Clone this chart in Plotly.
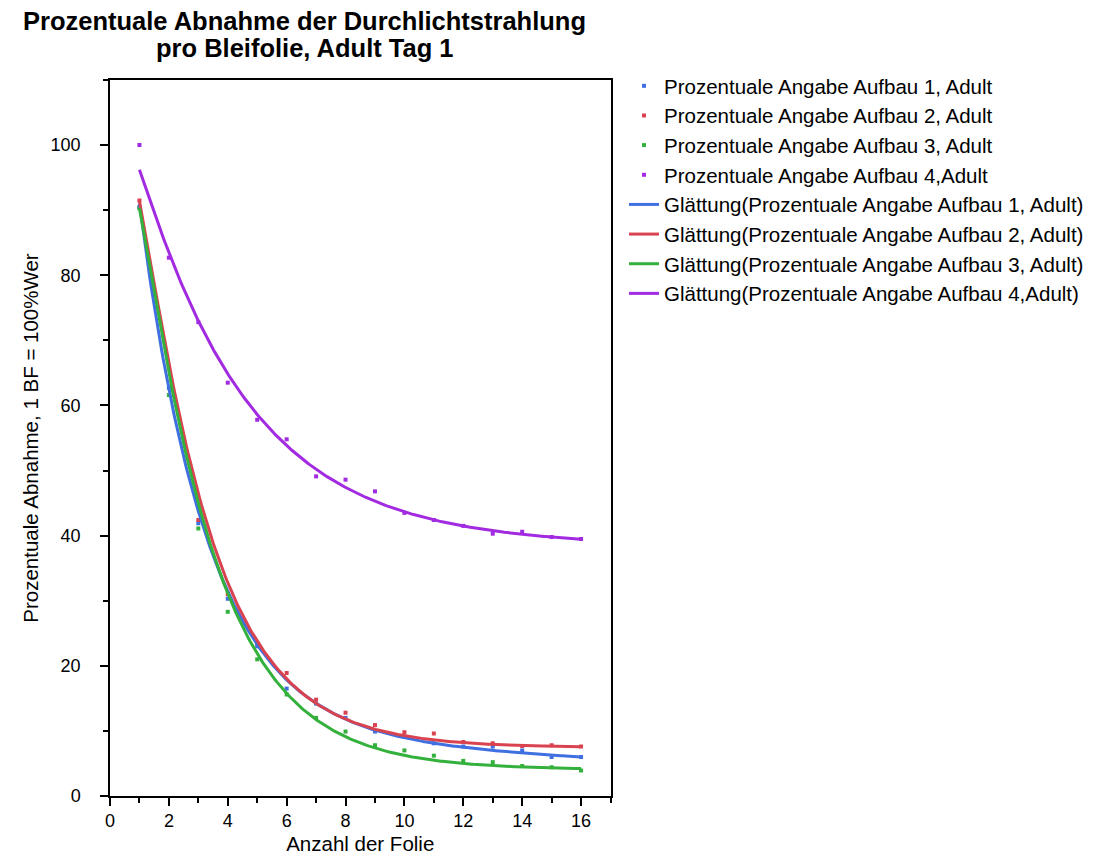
import numpy as np
import plotly.graph_objects as go

folie = list(range(1, 17))

# measured data points
aufbau1 = [90.5, 62.7, 41.9, 30.3, 23.0, 16.5, 14.2, 12.0, 9.9, 9.1, 8.1, 7.6, 7.6, 7.0, 6.0, 6.0]
aufbau2 = [91.5, 66.0, 42.4, 31.0, 23.5, 18.9, 14.8, 12.8, 10.9, 9.8, 9.6, 8.3, 8.1, 7.7, 7.8, 7.6]
aufbau3 = [90.3, 61.6, 41.1, 28.3, 21.0, 15.6, 12.0, 9.9, 7.8, 7.0, 6.2, 5.4, 5.2, 4.6, 4.4, 3.9]
aufbau4 = [100.0, 82.7, 72.8, 63.5, 57.8, 54.8, 49.1, 48.6, 46.8, 43.5, 42.4, 41.5, 40.3, 40.6, 39.8, 39.5]

# smoothed curves (Glättung) at each Folie
glatt1 = [90.8, 66.6, 46.1, 31.2, 23.1, 17.1, 13.5, 11.4, 10.1, 9.1, 8.3, 7.5, 7.2, 6.7, 6.3, 5.9]
glatt2 = [91.4, 67.3, 46.6, 31.8, 23.6, 17.8, 14.2, 12.1, 10.8, 9.75, 9.1, 8.4, 8.1, 7.7, 7.6, 7.5]
glatt3 = [90.3, 66.0, 45.6, 30.4, 21.0, 15.3, 11.5, 9.2, 7.7, 6.8, 6.2, 5.45, 5.05, 4.7, 4.3, 3.9]
glatt4 = [96.2, 84.3, 73.1, 64.0, 58.2, 53.9, 50.0, 47.8, 45.6, 43.7, 42.6, 41.6, 40.8, 40.2, 39.8, 39.4]

names = ["Prozentuale Angabe Aufbau 1, Adult", "Prozentuale Angabe Aufbau 2, Adult",
         "Prozentuale Angabe Aufbau 3, Adult", "Prozentuale Angabe Aufbau 4,Adult"]
colors = ["#3F6FE0", "#D9434F", "#34B03C", "#A22AE0"]
series = [aufbau1, aufbau2, aufbau3, aufbau4]
smooth = [glatt1, glatt2, glatt3, glatt4]

title_lines = ["Prozentuale Abnahme der Durchlichtstrahlung", "pro Bleifolie, Adult Tag 1"]


def smooth_curve(x, y):
    """Weighted least-squares double-exponential smoothing of the read curve values."""
    x = np.asarray(x, float)
    y = np.asarray(y, float)
    w = 1.0 / np.sqrt(y)
    w[0] *= 4.0   # anchor the curve at its first read value
    w[-3:] *= 3.0  # and along its tail
    best = None
    for k1 in np.linspace(0.15, 1.6, 59):
        for k2 in np.linspace(0.01, 0.6, 60):
            if k2 >= k1:
                continue
            M = np.column_stack([np.ones_like(x), np.exp(-k1 * x), np.exp(-k2 * x)])
            coef, *_ = np.linalg.lstsq(M * w[:, None], y * w, rcond=None)
            err = np.sum(((M @ coef - y) * w) ** 2)
            if best is None or err < best[0]:
                best = (err, k1, k2, coef)
    _, k1, k2, c = best
    xs = np.linspace(x.min(), x.max(), 300)
    return xs, c[0] + c[1] * np.exp(-k1 * xs) + c[2] * np.exp(-k2 * xs)


fig = go.Figure()
for name, col, ys in zip(names, colors, series):
    fig.add_trace(go.Scatter(x=folie, y=ys, mode="markers", name=name,
                             marker=dict(symbol="square", size=4, color=col)))
for name, col, ys in zip(names, colors, smooth):
    xs, yf = smooth_curve(folie, ys)
    fig.add_trace(go.Scatter(x=xs, y=yf, mode="lines", name="Glättung(" + name + ")",
                             line=dict(color=col, width=3)))

font = "Arial, Liberation Sans, sans-serif"
W, H = 1095, 856
L, R, T, B = 102, 482, 72, 58
plot_h = H - T - B
plot_w = W - L - R


def px_to_paper_y(py):
    return (H - B - py) / plot_h


def px_to_paper_x(px):
    return (px - L) / plot_w


for i, line in enumerate(title_lines):
    fig.add_annotation(text="<b>" + line + "</b>", xref="paper", yref="paper",
                       x=px_to_paper_x(301), y=px_to_paper_y([12.5, 40.0][i]),
                       xanchor="center", yanchor="middle", showarrow=False,
                       font=dict(size=25.5, family=font, color="black"))

fig.update_layout(
    width=W, height=H,
    paper_bgcolor="white", plot_bgcolor="white",
    margin=dict(l=L, r=R, t=T, b=B),
    font=dict(family=font, size=20.5, color="black"),
    legend=dict(x=616 / W, xref="container", y=1 - 58 / H, yref="container",
                xanchor="left", yanchor="top", font=dict(size=20.5, family=font),
                bgcolor="rgba(0,0,0,0)", itemwidth=30),
    showlegend=True,
)
fig.update_xaxes(range=[0, 17], tickvals=[0, 2, 4, 6, 8, 10, 12, 14, 16],
                 ticks="outside", ticklen=8, tickwidth=1.5, tickcolor="black",
                 showline=True, linecolor="black", linewidth=1.5, mirror=True,
                 showgrid=False, zeroline=False,
                 tickfont=dict(size=18),
                 minor=dict(ticks="outside", ticklen=5, tickwidth=1.5, tickcolor="black", dtick=1, showgrid=False),
                 title=dict(text="Anzahl der Folie", font=dict(size=20.5), standoff=6))
fig.update_yaxes(range=[0, 110], tickvals=[0, 20, 40, 60, 80, 100],
                 ticks="outside", ticklen=8, tickwidth=1.5, tickcolor="black",
                 showline=True, linecolor="black", linewidth=1.5, mirror=True,
                 showgrid=False, zeroline=False,
                 tickfont=dict(size=18), ticklabelstandoff=16,
                 minor=dict(ticks="outside", ticklen=5, tickwidth=1.5, tickcolor="black", dtick=10, showgrid=False),
                 title=dict(text="Prozentuale Abnahme, 1 BF = 100%Wer", font=dict(size=20.5), standoff=6))

fig.write_html("out.html")
